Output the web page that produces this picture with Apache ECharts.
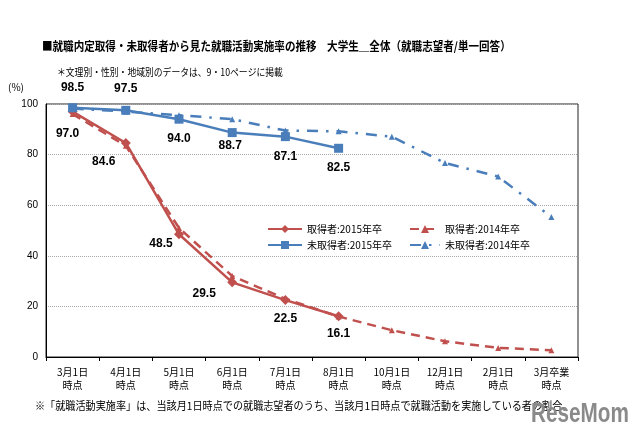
<!DOCTYPE html>
<html>
<head>
<meta charset="utf-8">
<script src="https://cdn.jsdelivr.net/npm/echarts@6/dist/echarts.min.js"></script>
<style>
html,body{margin:0;padding:0;background:#fff;}
#chart{width:640px;height:440px;}
</style>
</head>
<body>
<div id="chart"></div>
<script>
// ---- data ----
const categories = ['3月1日\n時点','4月1日\n時点','5月1日\n時点','6月1日\n時点','7月1日\n時点','8月1日\n時点','10月1日\n時点','12月1日\n時点','2月1日\n時点','3月卒業\n時点'];
const seriesNames = ['取得者:2015年卒','取得者:2014年卒','未取得者:2015年卒','未取得者:2014年卒'];
const obtained2015 = [97.0, 84.6, 48.5, 29.5, 22.5, 16.1];
const obtained2014 = [96.0, 83.5, 51.0, 32.0, 23.0, 16.0, 10.6, 6.2, 3.6, 2.7];
const notObtained2015 = [98.5, 97.5, 94.0, 88.7, 87.1, 82.5];
const notObtained2014 = [98.2, 97.0, 95.6, 94.0, 89.5, 89.2, 87.1, 76.7, 71.3, 55.3];
const yTicks = [0, 20, 40, 60, 80, 100];

const titleText = '■就職内定取得・未取得者から見た就職活動実施率の推移　大学生＿全体（就職志望者/単一回答）';
const subtitleText = '＊文理別・性別・地域別のデータは、9・10ページに掲載';
const footnoteText = '※「就職活動実施率」は、当該月1日時点での就職志望者のうち、当該月1日時点で就職活動を実施している者の割合。';

// ---- styling ----
const RED = '#c0504d';
const BLUE = '#4a7ebb';
const CJK = '"Noto Sans CJK JP", "Noto Sans", sans-serif';
const SANS = '"Liberation Sans", Arial, sans-serif';

const obtainedLabelOffsets = [[-5,22],[-22,19],[-18,9],[-28,11],[0,19],[0,17]];
const notObtainedLabelOffsets = [[0,-20],[0,-22],[0,20],[-2,13],[0,20],[0,19]];

function withLabels(values, offsets) {
  return values.map((v, i) => ({
    value: v,
    label: {
      show: true,
      position: 'inside',
      offset: offsets[i],
      formatter: v.toFixed(1),
      color: '#000',
      fontFamily: SANS,
      fontWeight: 'bold',
      fontSize: 12
    }
  }));
}

const chart = echarts.init(document.getElementById('chart'), null, {renderer: 'canvas'});
const option = {
  animation: false,
  backgroundColor: '#fff',
  grid: {left: 46, right: 62, top: 104, bottom: 83, show: true, borderColor: '#222', borderWidth: 1, backgroundColor: 'transparent'},
  legend: [
    {
      data: [seriesNames[0], seriesNames[2]],
      orient: 'vertical', left: 262, top: 219, itemGap: 6,
      itemWidth: 34, itemHeight: 10,
      textStyle: {fontFamily: CJK, fontSize: 10, color: '#000'}
    },
    {
      data: [seriesNames[1], seriesNames[3]],
      orient: 'vertical', left: 404, top: 219, itemGap: 6,
      itemWidth: 30, itemHeight: 10,
      textStyle: {fontFamily: CJK, fontSize: 10, color: '#000'}
    }
  ],
  xAxis: {
    type: 'category',
    data: categories,
    boundaryGap: true,
    axisLine: {lineStyle: {color: '#000', width: 1}},
    axisTick: {show: true, length: 4, lineStyle: {color: '#000'}},
    axisLabel: {fontFamily: CJK, fontSize: 10, color: '#000', lineHeight: 13, margin: 9, interval: 0},
    splitLine: {show: false}
  },
  yAxis: {
    type: 'value',
    min: yTicks[0], max: yTicks[yTicks.length - 1], interval: yTicks[1] - yTicks[0],
    axisLine: {show: true, lineStyle: {color: '#000', width: 1}},
    axisTick: {show: false},
    axisLabel: {fontFamily: SANS, fontSize: 10, color: '#000', margin: 8},
    splitLine: {show: true, lineStyle: {color: '#aaa', type: 'dotted', width: 1}}
  },
  series: [
    {
      name: seriesNames[1], type: 'line', data: obtained2014, z: 2,
      symbol: 'triangle', symbolSize: 6,
      lineStyle: {color: RED, width: 2.5, type: [9, 6]},
      itemStyle: {color: RED}
    },
    {
      name: seriesNames[3], type: 'line', data: notObtained2014, z: 2,
      symbol: 'triangle', symbolSize: 6,
      lineStyle: {color: BLUE, width: 2.5, type: [11, 8, 2.5, 8]},
      itemStyle: {color: BLUE}
    },
    {
      name: seriesNames[0], type: 'line', data: withLabels(obtained2015, obtainedLabelOffsets), z: 3,
      symbol: 'diamond', symbolSize: 10,
      lineStyle: {color: RED, width: 2.5},
      itemStyle: {color: RED}
    },
    {
      name: seriesNames[2], type: 'line', data: withLabels(notObtained2015, notObtainedLabelOffsets), z: 3,
      symbol: 'rect', symbolSize: 9,
      lineStyle: {color: BLUE, width: 2.5},
      itemStyle: {color: BLUE}
    }
  ],
  graphic: [
    {type: 'text', x: 42, y: 40, scaleX: 0.88, style: {text: titleText, font: 'bold 12px ' + CJK, fill: '#000', textBaseline: 'top'}},
    {type: 'text', x: 57, y: 67, scaleX: 0.88, style: {text: subtitleText, font: '10px ' + CJK, fill: '#000', textBaseline: 'top'}},
    {type: 'text', x: 8, y: 82, style: {text: '(%)', font: '10px ' + CJK, fill: '#000', textBaseline: 'top'}},
    {type: 'text', x: 35, y: 400, scaleX: 0.92, style: {text: footnoteText, font: '11px ' + CJK, fill: '#000', textBaseline: 'top'}},
    {type: 'text', x: 531, y: 400, scaleX: 0.74, style: {text: 'ReseMom', font: 'bold 28px ' + SANS, fill: '#8a8a8a', textBaseline: 'top'}}
  ]
};
chart.setOption(option);
</script>
</body>
</html>
